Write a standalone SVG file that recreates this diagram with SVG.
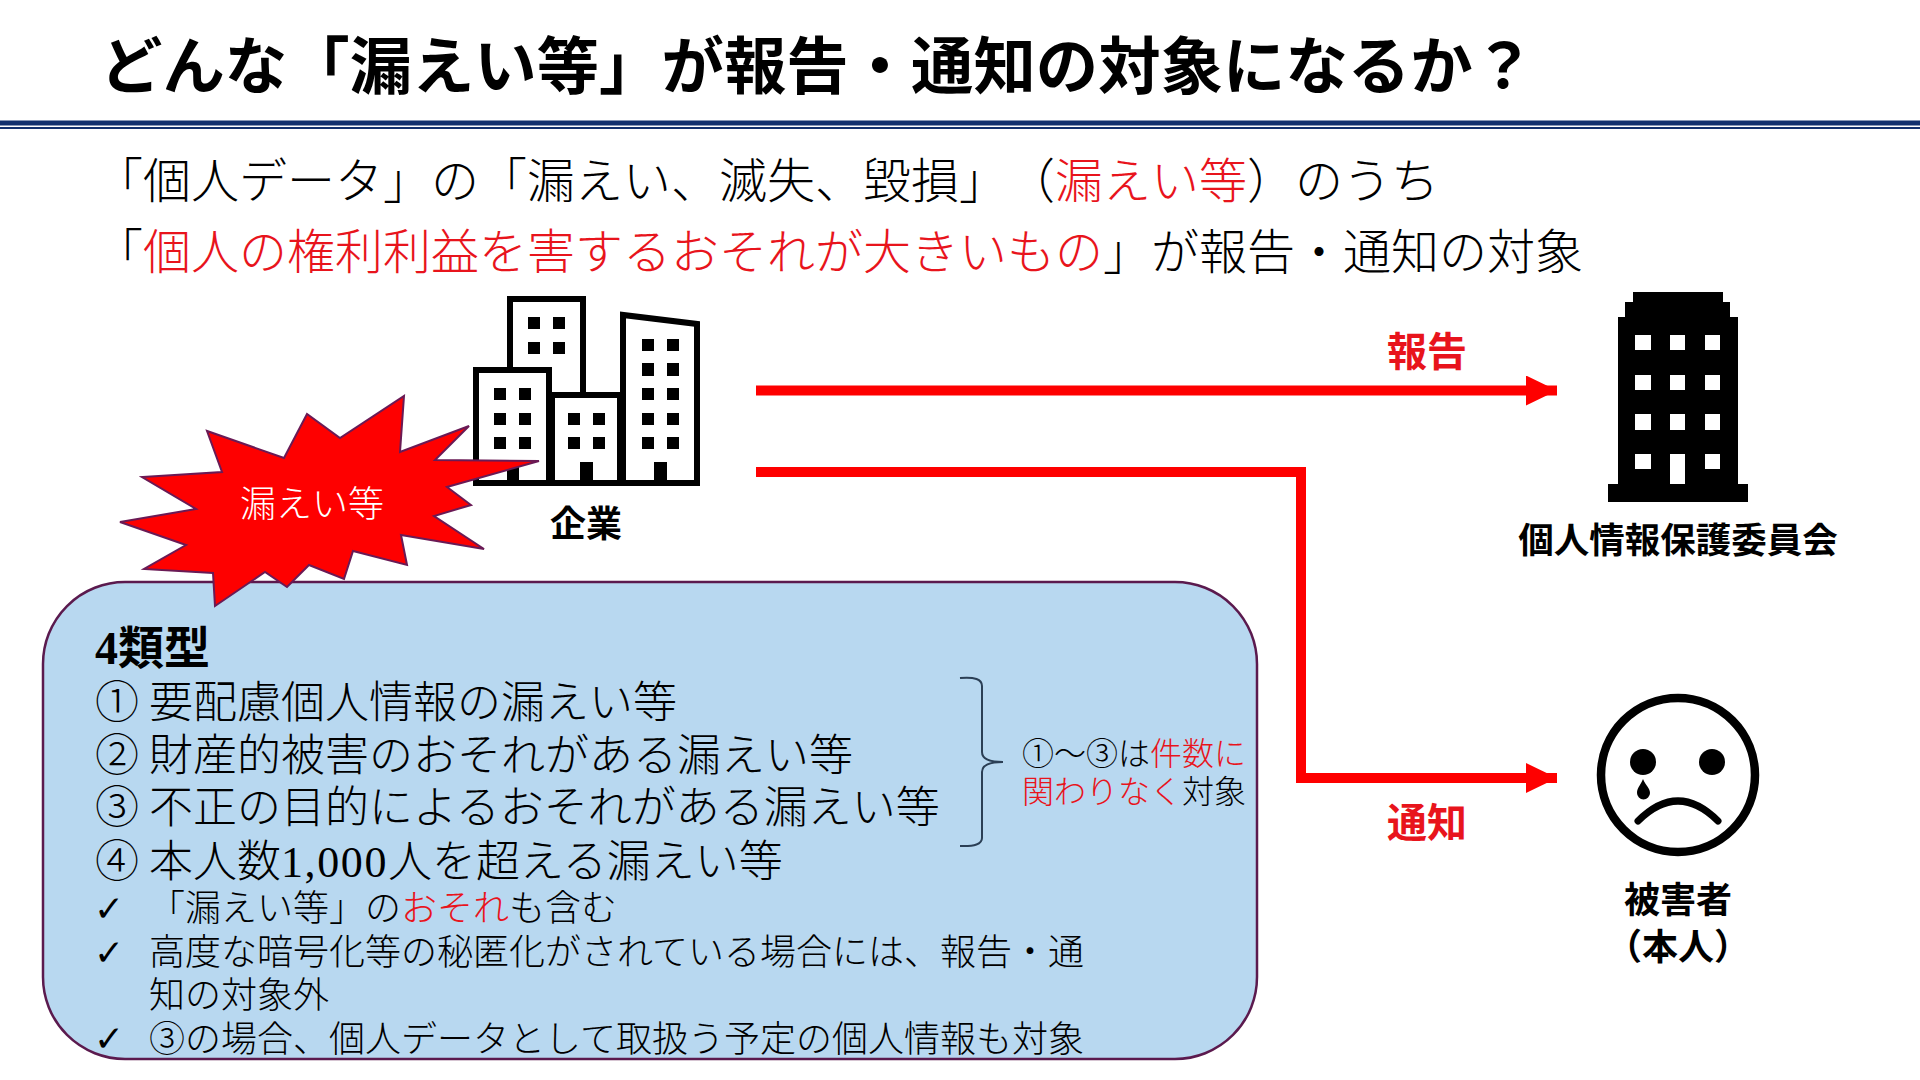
<svg xmlns="http://www.w3.org/2000/svg" width="1920" height="1080" viewBox="0 0 1920 1080">
<defs>
<style>
text{font-family:"Liberation Serif","Noto Sans CJK JP",serif;font-weight:300;fill:#000;text-spacing-trim:space-all}
.r{fill:#e8141c}
.b{font-weight:700}
.m{text-anchor:middle}
.t{font-size:62.400px;font-weight:700}
.l{font-size:48px}
.a{font-size:44px}
.s{font-size:36px}
.n{font-size:32px}
.w{fill:#000}
.bld{fill:#fff;stroke:#000;stroke-width:6}
.ck{font-family:"DejaVu Sans",sans-serif;font-size:36px;font-weight:700}
</style>
<marker id="ah" markerUnits="userSpaceOnUse" markerWidth="32" markerHeight="30" refX="31" refY="15" orient="auto"><path d="M0 0L31 15L0 30Z" fill="#fe0000"/></marker>
</defs>
<rect width="1920" height="1080" fill="#fff"/>
<g id="title">
<text class="t" x="100" y="89">どんな「漏えい等」が報告・通知の対象になるか？</text>
<rect x="0" y="120.500" width="1920" height="5" fill="#12306e"/>
<rect x="0" y="127" width="1920" height="2" fill="#12306e"/>
</g>
<g id="lead">
<text class="l" x="95" y="198">「個人データ」の「漏えい、滅失、毀損」（<tspan class="r">漏えい等</tspan>）のうち</text>
<text class="l" x="95" y="269">「<tspan class="r">個人の権利利益を害するおそれが大きいもの</tspan>」が報告・通知の対象</text>
</g>
<g id="company">
<path class="bld" d="M510 370V299H583V395"/>
<path class="bld" d="M552 395H620V483H552Z"/>
<path class="bld" d="M623 483V315L697 324V483Z"/>
<path class="bld" d="M476 483V370H549V483Z"/>
<path class="w" d="M528 317h12v12h-12zM553 317h12v12h-12zM528 342h12v12h-12zM553 342h12v12h-12zM494 388h12v12h-12zM519 388h12v12h-12zM494 413h12v12h-12zM519 413h12v12h-12zM494 437h12v12h-12zM519 437h12v12h-12zM507 467h12v15h-12zM568 413h12v12h-12zM593 413h12v12h-12zM568 437h12v12h-12zM593 437h12v12h-12zM580 462h13v20h-13zM642 339h12v12h-12zM667 339h12v12h-12zM642 363h12v13h-12zM667 363h12v13h-12zM642 388h12v12h-12zM667 388h12v12h-12zM642 413h12v12h-12zM667 413h12v12h-12zM642 437h12v12h-12zM667 437h12v12h-12zM654 462h13v20h-13z"/>
<text class="s b m" x="586" y="537">企業</text>
</g>
<g id="types">
<rect x="43" y="582" width="1214" height="477" rx="82" ry="82" fill="#b8d8f0" stroke="#5b1a4e" stroke-width="2.500"/>
<text x="95" y="664" font-size="46" class="b">4類型</text>
<text class="a" x="95" y="718">①</text><text class="a" x="149" y="718">要配慮個人情報の漏えい等</text>
<text class="a" x="95" y="771">②</text><text class="a" x="149" y="771">財産的被害のおそれがある漏えい等</text>
<text class="a" x="95" y="823">③</text><text class="a" x="149" y="823">不正の目的によるおそれがある漏えい等</text>
<text class="a" x="95" y="877">④</text><text class="a" x="149" y="877">本人数<tspan letter-spacing="1.600">1,000</tspan>人を超える漏えい等</text>
<text class="ck" x="94" y="921">✓</text><text class="s" x="149" y="921">「漏えい等」の<tspan class="r">おそれ</tspan>も含む</text>
<text class="ck" x="94" y="965">✓</text><text class="s" x="149" y="965">高度な暗号化等の秘匿化がされている場合には、報告・通</text>
<text class="s" x="149" y="1008">知の対象外</text>
<text class="ck" x="94" y="1051">✓</text><text class="s" x="149" y="1052">③の場合、個人データとして取扱う予定の個人情報も対象</text>
<path d="M960 678Q982 676 982 686V752Q982 762 1003 762Q982 762 982 772V838Q982 847 960 846" fill="none" stroke="#2b3f55" stroke-width="2"/>
<text class="n" x="1022" y="765">①～③は<tspan class="r">件数に</tspan></text>
<text class="n" x="1022" y="803"><tspan class="r">関わりなく</tspan>対象</text>
</g>
<g id="leak">
<path d="M404 396L400 452L469 426L435 460L539 461L447 487L471 505L434 516L484 549L401 535L407 565L353 551L344 579L309 565L287 587L265 572L215 606L213 573L144 569L186 545L120 522L196 509L142 477L222 472L207 431L284 458L307 414L340 438Z" fill="#fe0000" stroke="#6a1a55" stroke-width="2"/>
<text class="s m" x="312" y="517" style="fill:#fff">漏えい等</text>
</g>
<g id="connectors">
<path d="M756 390.500H1557" fill="none" stroke="#fe0000" stroke-width="10" marker-end="url(#ah)"/>
<path d="M756 472H1301V778H1557" fill="none" stroke="#fe0000" stroke-width="10" marker-end="url(#ah)"/>
<text class="b m" x="1427" y="366" style="font-size:40px;fill:#e8141c">報告</text>
<text class="b m" x="1427" y="837" style="font-size:40px;fill:#e8141c">通知</text>
</g>
<g id="ppc">
<path class="w" fill-rule="evenodd" d="M1633 292H1723V302H1730V317H1738V484H1748V502H1608V484H1618V317H1625V302H1633ZM1635 335V350H1651V335ZM1670 335V350H1685V335ZM1705 335V350H1720V335ZM1635 375V390H1651V375ZM1670 375V390H1685V375ZM1705 375V390H1720V375ZM1635 414V430H1651V414ZM1670 414V430H1685V414ZM1705 414V430H1720V414ZM1635 454V469H1651V454ZM1670 454V484H1685V454ZM1705 454V469H1720V454Z"/>
<text class="b m" style="font-size:35.500px" x="1678" y="553">個人情報保護委員会</text>
</g>
<g id="victim">
<circle cx="1678" cy="775" r="77" fill="#fff" stroke="#000" stroke-width="8.500"/>
<circle class="w" cx="1643" cy="762" r="13"/>
<circle class="w" cx="1712" cy="762" r="13"/>
<path class="w" d="M1643 779C1646 786 1650 788 1650 793A6.500 6.500 0 0 1 1637 793C1637 788 1640 786 1643 779Z"/>
<path d="M1638 821Q1678 781 1718 821" fill="none" stroke="#000" stroke-width="7" stroke-linecap="round"/>
<text class="s b m" x="1678" y="913">被害者</text>
<text class="s b m" x="1678" y="960">（本人）</text>
</g>
</svg>
